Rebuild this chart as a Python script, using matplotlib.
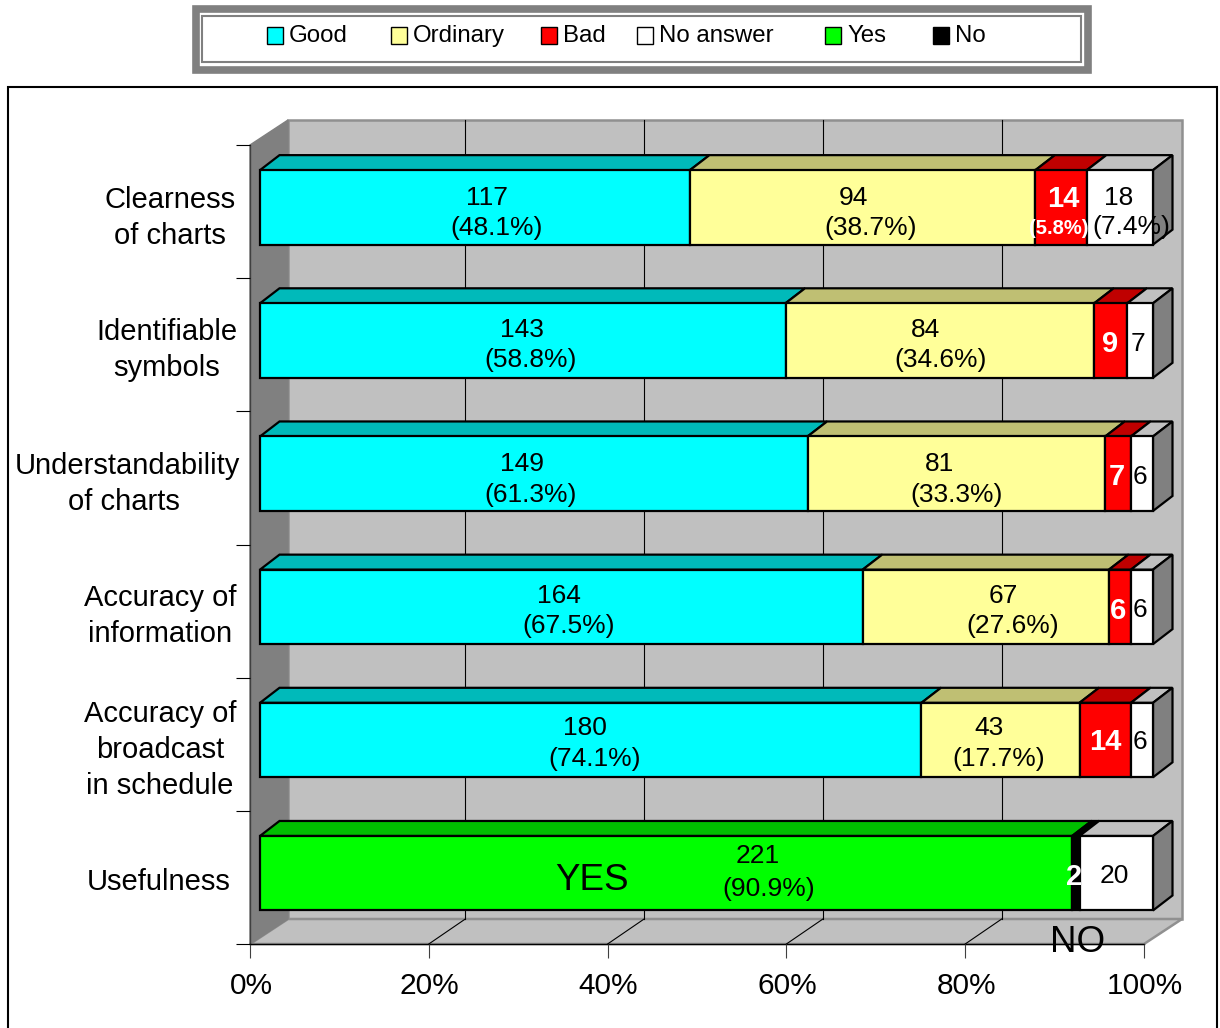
import matplotlib
matplotlib.use("Agg")
import matplotlib.pyplot as plt
from matplotlib.patches import Polygon, Rectangle
from matplotlib.transforms import ScaledTranslation

plt.rcParams["font.family"] = ["Liberation Sans", "DejaVu Sans"]

# ------------------------
# Survey counts (243 answers per question)
# ------------------------
questions = ["Clearness", "Identifiable", "Understandability",
             "Accuracy of information", "Accuracy of broadcast", "Usefulness"]
good = [117, 143, 149, 164, 180, 0]
ordinary = [94, 84, 81, 67, 43, 0]
bad = [14, 9, 7, 6, 14, 0]
yes = [0, 0, 0, 0, 0, 221]
no = [0, 0, 0, 0, 0, 2]
no_answer = [18, 7, 6, 6, 6, 20]
x_ticks = [0, 20, 40, 60, 80, 100]
x_tick_labels = ["0%", "20%", "40%", "60%", "80%", "100%"]

W, H = 1220, 1028
fig = plt.figure(figsize=(W / 100, H / 100), dpi=100)


def fx(x):
    return x / W


def fy(y):
    return 1 - y / H


def fty(y):
    # text sits a little low in its line box
    return fy(y + 2)


# ------------------------
# Frame and legend box
# ------------------------
fig.add_artist(Rectangle((fx(8), fy(1040)), (1217 - 8) / W, (1040 - 87) / H,
                         transform=fig.transFigure, fc="white", ec="black", lw=1.5, zorder=-5))
fig.add_artist(Rectangle((fx(195.5), fy(69.5)), (1088 - 195.5) / W, (69.5 - 9) / H,
                         transform=fig.transFigure, fc="white", ec="#808080", lw=5.5, zorder=-4))
fig.add_artist(Rectangle((fx(202), fy(62)), (1081 - 202) / W, (62 - 16) / H,
                         transform=fig.transFigure, fc="white", ec="#808080", lw=1.5, zorder=-3))

legend_items = [("Good", "#00FFFF", 267), ("Ordinary", "#FFFF99", 391), ("Bad", "#FF0000", 541),
                ("No answer", "#FFFFFF", 637), ("Yes", "#00FF00", 825), ("No", "#000000", 933)]
for name, color, lx in legend_items:
    fig.add_artist(Rectangle((fx(lx), fy(44)), 16 / W, 17 / H, transform=fig.transFigure,
                             fc=color, ec="black", lw=1.0))
    fig.text(fx(lx + 22), fty(34), name, fontsize=17.3, va="center", ha="left", color="black")

# ------------------------
# Plot area: x in percent, y in question rows
# ------------------------
ax = fig.add_axes([250 / W, 84 / H, 894 / W, 799 / H])
ax.set_xlim(0, 100)
ax.set_ylim(6, 0)
ax.patch.set_visible(False)

px_x = 100 / 894   # percent per pixel
px_y = 6 / 799     # rows per pixel
wall_dx, wall_dy = 38 * px_x, 25 * px_y
grid_dx = 36.5 * px_x

# walls and floor
ax.add_patch(Polygon([(wall_dx, -wall_dy), (100 + wall_dx, -wall_dy),
                      (100 + wall_dx, 6 - wall_dy), (wall_dx, 6 - wall_dy)],
                     fc="#C0C0C0", ec="#909090", lw=1.8, clip_on=False, zorder=1))
ax.add_patch(Polygon([(0, 6), (wall_dx, 6 - wall_dy), (100 + wall_dx, 6 - wall_dy), (100, 6)],
                     fc="#C0C0C0", ec="#909090", lw=1.8, clip_on=False, zorder=1.1))
ax.add_patch(Polygon([(0, 0), (wall_dx, -wall_dy), (wall_dx, 6 - wall_dy), (0, 6)],
                     fc="#808080", ec="#808080", lw=1, clip_on=False, zorder=1.2))
for t in x_ticks[1:-1]:
    ax.plot([t + grid_dx] * 2, [-wall_dy, 6 - wall_dy], color="black", lw=0.8, zorder=1.3,
            clip_on=False)
    ax.plot([t, t + grid_dx], [6, 6 - wall_dy], color="black", lw=0.8, zorder=1.3,
            clip_on=False)

# stacked bars with top and end faces
series = [(good, "#00FFFF", "#00BABA"), (ordinary, "#FFFF99", "#BFBF73"), (bad, "#FF0000", "#BF0000"),
          (yes, "#00FF00", "#00BF00"), (no, "#000000", "#000000"), (no_answer, "#FFFFFF", "#C0C0C0")]
bar_x0 = 10 * px_x
bar_scale = 893 / 894
bar_h = 74.5 * px_y
depth_x, depth_y = 19.5 * px_x, 15 * px_y
lw_bar = 1.6

for row in range(len(questions)):
    total = sum(s[0][row] for s in series)
    top = row + 0.5 - 4.2 * px_y - bar_h / 2
    bottom = top + bar_h
    left = 0
    for values, color, top_color in series:
        v = values[row] / total * 100
        if v == 0:
            continue
        x1 = bar_x0 + left * bar_scale
        x2 = bar_x0 + (left + v) * bar_scale
        ax.barh(row + 0.5 - 4.2 * px_y, x2 - x1, height=bar_h, left=x1, color=color,
                edgecolor="black", lw=lw_bar, zorder=3, clip_on=False)
        ax.add_patch(Polygon([(x1, top), (x1 + depth_x, top - depth_y),
                              (x2 + depth_x, top - depth_y), (x2, top)],
                             fc=top_color, ec="black", lw=lw_bar, zorder=2.5, clip_on=False))
        left += v
    end = bar_x0 + 100 * bar_scale
    ax.add_patch(Polygon([(end, top), (end + depth_x, top - depth_y),
                          (end + depth_x, bottom - depth_y), (end, bottom)],
                         fc="#808080", ec="black", lw=lw_bar, clip_on=False, zorder=2.5))

# axis ticks
ax.set_xlim(0, 100)
ax.set_ylim(6, 0)
ax.set_xticks(x_ticks)
ax.set_xticklabels(x_tick_labels, fontsize=21.5)
ax.set_yticks(range(7))
ax.set_yticklabels([])
ax.tick_params(axis="x", length=10, width=0.8, pad=10.5, color="#404040")
ax.tick_params(axis="y", length=10, width=0.8, color="black")
shift = ScaledTranslation(1 / 100, 0, fig.dpi_scale_trans)
for label in ax.get_xticklabels():
    label.set_transform(label.get_transform() + shift)
for side in ["top", "right"]:
    ax.spines[side].set_visible(False)
ax.spines["left"].set_color("#404040")
ax.spines["left"].set_linewidth(1.0)
ax.spines["left"].set_zorder(1.4)
ax.spines["bottom"].set_linewidth(1.0)
ax.spines["bottom"].set_zorder(1.4)

# ------------------------
# Category names and bar labels
# ------------------------
category_labels = [
    (170, 198, "Clearness"), (170, 234, "of charts"),
    (167, 330, "Identifiable"), (167, 366, "symbols"),
    (127, 464, "Understandability"), (124, 500, "of charts"),
    (160, 596, "Accuracy of"), (160, 632, "information"),
    (160, 712, "Accuracy of"), (160, 748, "broadcast"), (160, 784, "in schedule"),
    (159, 880, "Usefulness"),
]
for x, y, s in category_labels:
    fig.text(fx(x), fty(y), s, fontsize=21, ha="center", va="center")

value_labels = [
    (487, 196, "117"), (497, 226, "(48.1%)"), (853, 196, "94"), (871, 226, "(38.7%)"),
    (1119, 196, "18"), (1131, 225, "(7.4%)"),
    (522, 328, "143"), (531, 358, "(58.8%)"), (925, 328, "84"), (941, 358, "(34.6%)"), (1138, 342, "7"),
    (522, 462, "149"), (531, 493, "(61.3%)"), (939, 462, "81"), (957, 493, "(33.3%)"), (1140, 475, "6"),
    (559, 594, "164"), (569, 624, "(67.5%)"), (1003, 594, "67"), (1013, 624, "(27.6%)"), (1140, 608, "6"),
    (585, 726, "180"), (595, 757, "(74.1%)"), (989, 726, "43"), (999, 757, "(17.7%)"), (1140, 740, "6"),
    (758, 854, "221"), (769, 887, "(90.9%)"), (1114, 874, "20"),
]
for x, y, s in value_labels:
    fig.text(fx(x), fty(y), s, fontsize=19, ha="center", va="center")

bold_labels = [
    (1063, 197, "14", 21), (1059, 226, "(5.8%)", 14.5), (1110, 342, "9", 21), (1117, 475, "7", 21),
    (1118, 609, "6", 21), (1105, 740, "14", 21), (1074, 875, "2", 21),
]
for x, y, s, size in bold_labels:
    fig.text(fx(x), fty(y), s, fontsize=size, fontweight="bold", color="white", ha="center", va="center")

fig.text(fx(592), fty(879), "YES", fontsize=26.5, ha="center", va="center")
fig.text(fx(1078), fty(941), "NO", fontsize=26.5, ha="center", va="center")

fig.savefig("out.png", dpi=100)
